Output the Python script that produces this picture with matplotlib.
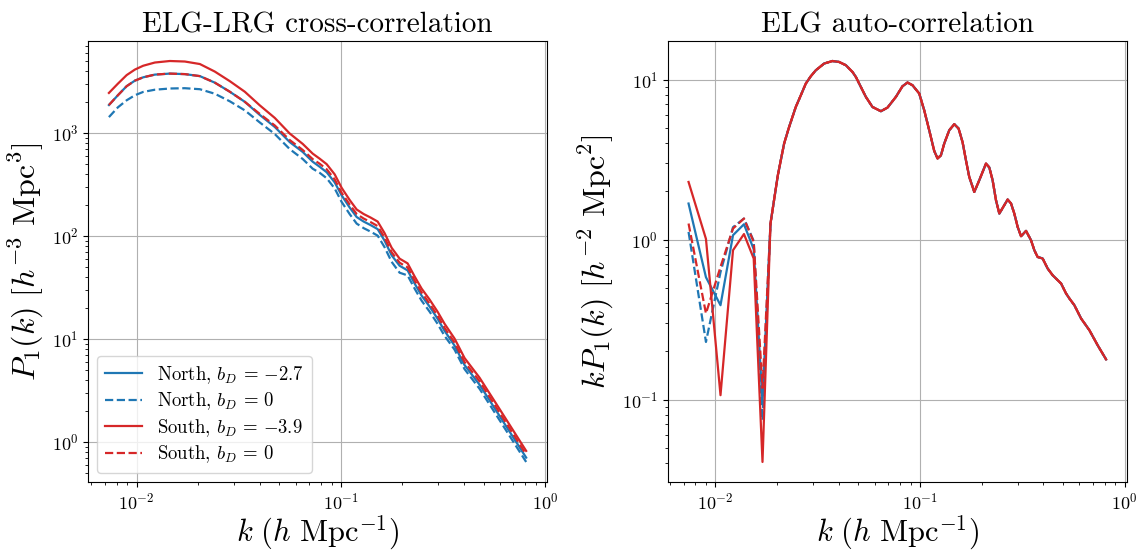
import matplotlib

matplotlib.use("Agg")
import matplotlib.pyplot as plt

# LaTeX-like look
plt.rcParams["font.family"] = "serif"
plt.rcParams["font.serif"] = ["cmr10"]
plt.rcParams["mathtext.fontset"] = "cm"
plt.rcParams["axes.formatter.use_mathtext"] = True

# ---- left panel: ELG-LRG cross power, P1(k) ----
k_cross = [0.00732, 0.00810, 0.00894, 0.00981, 0.01077, 0.01229, 0.01455, 0.01722,
           0.02040, 0.02415, 0.02859, 0.03385, 0.04007, 0.04747, 0.05619, 0.06504,
           0.07280, 0.07874, 0.08520, 0.09325, 0.1009, 0.1104, 0.1195, 0.1293,
           0.1399, 0.1514, 0.1637, 0.1772, 0.1939, 0.2122, 0.2296, 0.2484, 0.2718,
           0.2974, 0.3218, 0.3602, 0.4031, 0.4773, 0.5977, 0.8074]
cross_north_bd = [1865, 2320, 2842, 3216, 3464, 3681, 3765, 3722, 3559, 3075, 2511,
                  2005, 1496, 1142, 814, 653, 525, 469, 415, 331, 247.2, 188.6, 152.4,
                  137.7, 127.2, 116.3, 89.8, 64.8, 51.3, 46.2, 34.5, 26.3, 20.6, 15.69,
                  11.98, 8.60, 5.57, 3.59, 1.79, 0.703]
cross_north_0 = [1423, 1771, 2073, 2320, 2499, 2626, 2698, 2716, 2656, 2400, 2027,
                 1656, 1264, 975, 696, 558, 449, 410, 363, 289, 213.5, 162.9, 131.6,
                 118.9, 109.9, 100.5, 77.6, 56.0, 43.9, 41.3, 30.8, 23.5, 18.4, 14.01,
                 10.70, 7.86, 5.09, 3.28, 1.63, 0.638]
cross_south_bd = [2443, 3006, 3640, 4119, 4487, 4823, 4989, 4932, 4663, 3939, 3180,
                  2511, 1853, 1398, 986, 782, 629, 562, 497, 396, 292.6, 223.3, 180.4,
                  163.0, 150.6, 137.7, 106.3, 76.7, 60.1, 54.1, 40.4, 30.8, 24.1, 18.36,
                  14.02, 10.07, 6.52, 4.20, 2.09, 0.817]
cross_south_0 = [1865, 2320, 2842, 3216, 3464, 3681, 3765, 3722, 3559, 3075, 2511,
                 2005, 1530, 1181, 852, 683, 556, 502, 444, 354, 261.4, 201.8, 163.0,
                 147.3, 136.1, 124.5, 96.1, 69.3, 54.9, 49.4, 36.9, 28.2, 22.0, 16.78,
                 12.81, 9.20, 5.96, 3.88, 1.93, 0.755]

# ---- right panel: ELG auto power, k*P1(k) ----
# low-k part (curves differ)
k_auto_low = [0.0074, 0.0090, 0.0106, 0.0122, 0.0138, 0.0154, 0.0170, 0.0186]
auto_north_bd_low = [1.679, 0.581, 0.3885, 1.064, 1.246, 0.870, 0.0962, 1.259]
auto_north_0_low = [1.116, 0.229, 0.625, 1.194, 1.353, 0.979, 0.0743, 1.259]
auto_south_bd_low = [2.29, 1.009, 0.1064, 0.857, 1.082, 0.7605, 0.0407, 1.259]
auto_south_0_low = [1.259, 0.345, 0.674, 1.171, 1.353, 0.966, 0.118, 1.259]
# high-k part (all curves overlap)
k_auto_high = [0.0202, 0.02168, 0.02293, 0.02472, 0.02616, 0.02767, 0.02927, 0.03097,
               0.03400, 0.03734, 0.04025, 0.04342, 0.04676, 0.04860, 0.05140, 0.05438,
               0.05857, 0.06439, 0.06937, 0.07621, 0.08209, 0.08687, 0.09190, 0.0991,
               0.1048, 0.1109, 0.1173, 0.1218, 0.1265, 0.1313, 0.1389, 0.1470, 0.1543,
               0.1613, 0.1676, 0.1740, 0.1841, 0.1948, 0.2100, 0.2180, 0.2262, 0.2350,
               0.2440, 0.2551, 0.2679, 0.2783, 0.2888, 0.2998, 0.3114, 0.3295, 0.3485,
               0.3618, 0.3754, 0.3972, 0.4202, 0.4445, 0.4887, 0.5169, 0.5366, 0.5675,
               0.6120, 0.6721, 0.7379, 0.8110]
auto_high = [2.52, 3.98, 5.05, 6.74, 7.97, 9.44, 10.49, 11.43, 12.59, 13.06, 12.88,
             12.29, 11.16, 10.38, 8.99, 7.79, 6.74, 6.34, 6.68, 7.79, 9.08, 9.58, 9.21,
             8.18, 6.43, 4.82, 3.58, 3.21, 3.36, 3.98, 4.82, 5.26, 4.94, 4.07, 3.13,
             2.46, 1.984, 2.35, 2.985, 2.82, 2.35, 1.76, 1.453, 1.60, 1.778, 1.68,
             1.453, 1.20, 1.049, 1.132, 0.990, 0.857, 0.778, 0.761, 0.659, 0.598,
             0.531, 0.46, 0.428, 0.3885, 0.321, 0.271, 0.218, 0.178]

labels = [r"North, $b_D\,=\,{-}2.7$", r"North, $b_D\,=\,0$",
          r"South, $b_D\,=\,{-}3.9$", r"South, $b_D\,=\,0$"]
colors = ["tab:blue", "tab:blue", "tab:red", "tab:red"]
styles = ["-", "--", "-", "--"]

fig = plt.figure(figsize=(11.48, 5.52), dpi=100)
ax1 = fig.add_axes([0.0767, 0.1268, 0.3998, 0.799])
ax2 = fig.add_axes([0.5816, 0.1268, 0.4001, 0.799])

cross_sets = [cross_north_bd, cross_north_0, cross_south_bd, cross_south_0]
for vals, c, ls, lab in zip(cross_sets, colors, styles, labels):
    ax1.plot(k_cross, vals, color=c, ls=ls, lw=1.6, label=lab)

auto_sets = [auto_north_bd_low, auto_north_0_low, auto_south_bd_low, auto_south_0_low]
for low, c, ls in zip(auto_sets, colors, styles):
    ax2.plot(k_auto_low + k_auto_high, low + auto_high, color=c, ls=ls, lw=1.6)

for ax in (ax1, ax2):
    ax.set_xscale("log")
    ax.set_yscale("log")
    ax.grid(True, which="major", color="#b0b0b0", lw=0.8)
    ax.tick_params(labelsize=13)
    ax.set_xlabel(r"$k\ (h\ \mathrm{Mpc}^{-1})$", fontsize=22, labelpad=1)

ax1.set_title("ELG-LRG cross-correlation", fontsize=21)
ax1.set_ylabel(r"$P_1(k)\ [h^{-3}\ \mathrm{Mpc}^3]$", fontsize=23)
ax2.set_title("ELG auto-correlation", fontsize=21)
ax2.set_ylabel(r"$kP_1(k)\ [h^{-2}\ \mathrm{Mpc}^2]$", fontsize=23)

ax1.legend(loc="lower left", fontsize=13.5, labelspacing=0.25, borderpad=0.4)

plt.savefig("out.png", dpi=100)
plt.close()
